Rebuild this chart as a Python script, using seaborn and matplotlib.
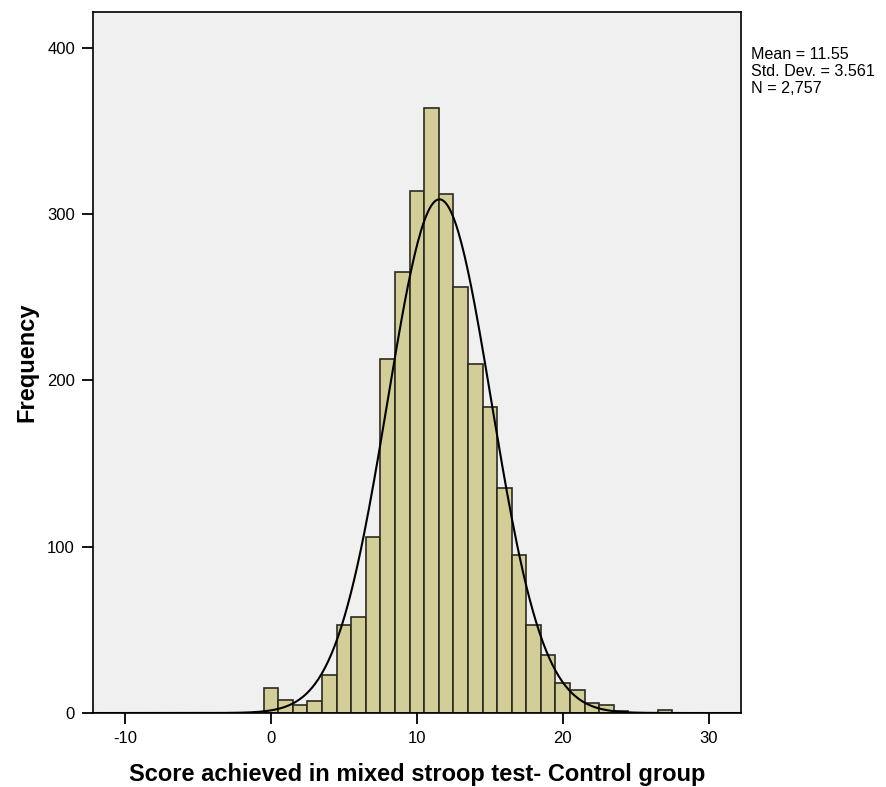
import numpy as np
import pandas as pd
import matplotlib
matplotlib.use("Agg")
import matplotlib.pyplot as plt
import seaborn as sns

# === DATA ===
score_bins = list(range(0, 28))
frequencies = [15, 8, 5, 7, 23, 53, 58, 106, 213, 265, 314, 364, 312, 256,
               210, 184, 135, 95, 53, 35, 18, 14, 6, 5, 1, 0, 0, 2]
mean_score = 11.55
sd_score = 3.561
n_total = 2757
stats_lines = ["Mean = 11.55", "Std. Dev. = 3.561", "N = 2,757"]
x_ticks = [-10, 0, 10, 20, 30]
y_ticks = [0, 100, 200, 300, 400]

df = pd.DataFrame({"Score": score_bins, "Count": frequencies})

# === STYLE ===
sns.set_style("white")
plt.rcParams["font.family"] = ["Liberation Sans", "DejaVu Sans"]
plt.rcParams["axes.unicode_minus"] = False
plt.rcParams["text.color"] = "black"
plt.rcParams["axes.labelcolor"] = "black"
plt.rcParams["xtick.color"] = "black"
plt.rcParams["ytick.color"] = "black"

fig = plt.figure(figsize=(8.86, 7.87), dpi=100)
ax = fig.add_axes([0.105, 0.094, 0.731, 0.891])
ax.set_facecolor("#F0F0F0")

sns.histplot(data=df, x="Score", weights="Count", discrete=True, ax=ax,
             color="#D3CE97", edgecolor="#2b2b22", linewidth=1.2, alpha=1.0)

# normal curve scaled to counts (bin width = 1)
xs = np.linspace(-12.2, 32.2, 400)
ys = n_total / (sd_score * np.sqrt(2 * np.pi)) * np.exp(-0.5 * ((xs - mean_score) / sd_score) ** 2)
sns.lineplot(x=xs, y=ys, ax=ax, color="black", linewidth=1.5)

ax.set_xlim(-12.2, 32.2)
ax.set_ylim(0, 421.6)
ax.set_xticks(x_ticks)
ax.set_yticks(y_ticks)
ax.tick_params(axis="both", direction="out", length=8, width=1.3,
               labelsize=12, color="black", labelcolor="black",
               bottom=True, left=True, pad=5)
for side in ["top", "right", "left", "bottom"]:
    ax.spines[side].set_visible(True)
    ax.spines[side].set_color("black")
    ax.spines[side].set_linewidth(1.2)

ax.set_xlabel("Score achieved in mixed stroop test- Control group",
              fontsize=17, fontweight="bold", labelpad=12, color="black")
ax.set_ylabel("Frequency", fontsize=17, fontweight="bold", labelpad=6, color="black")

fig.text(0.848, 0.940, "\n".join(stats_lines), fontsize=11.6,
         va="top", ha="left", linespacing=1.15)

fig.savefig("out.png", dpi=100, facecolor="white")
